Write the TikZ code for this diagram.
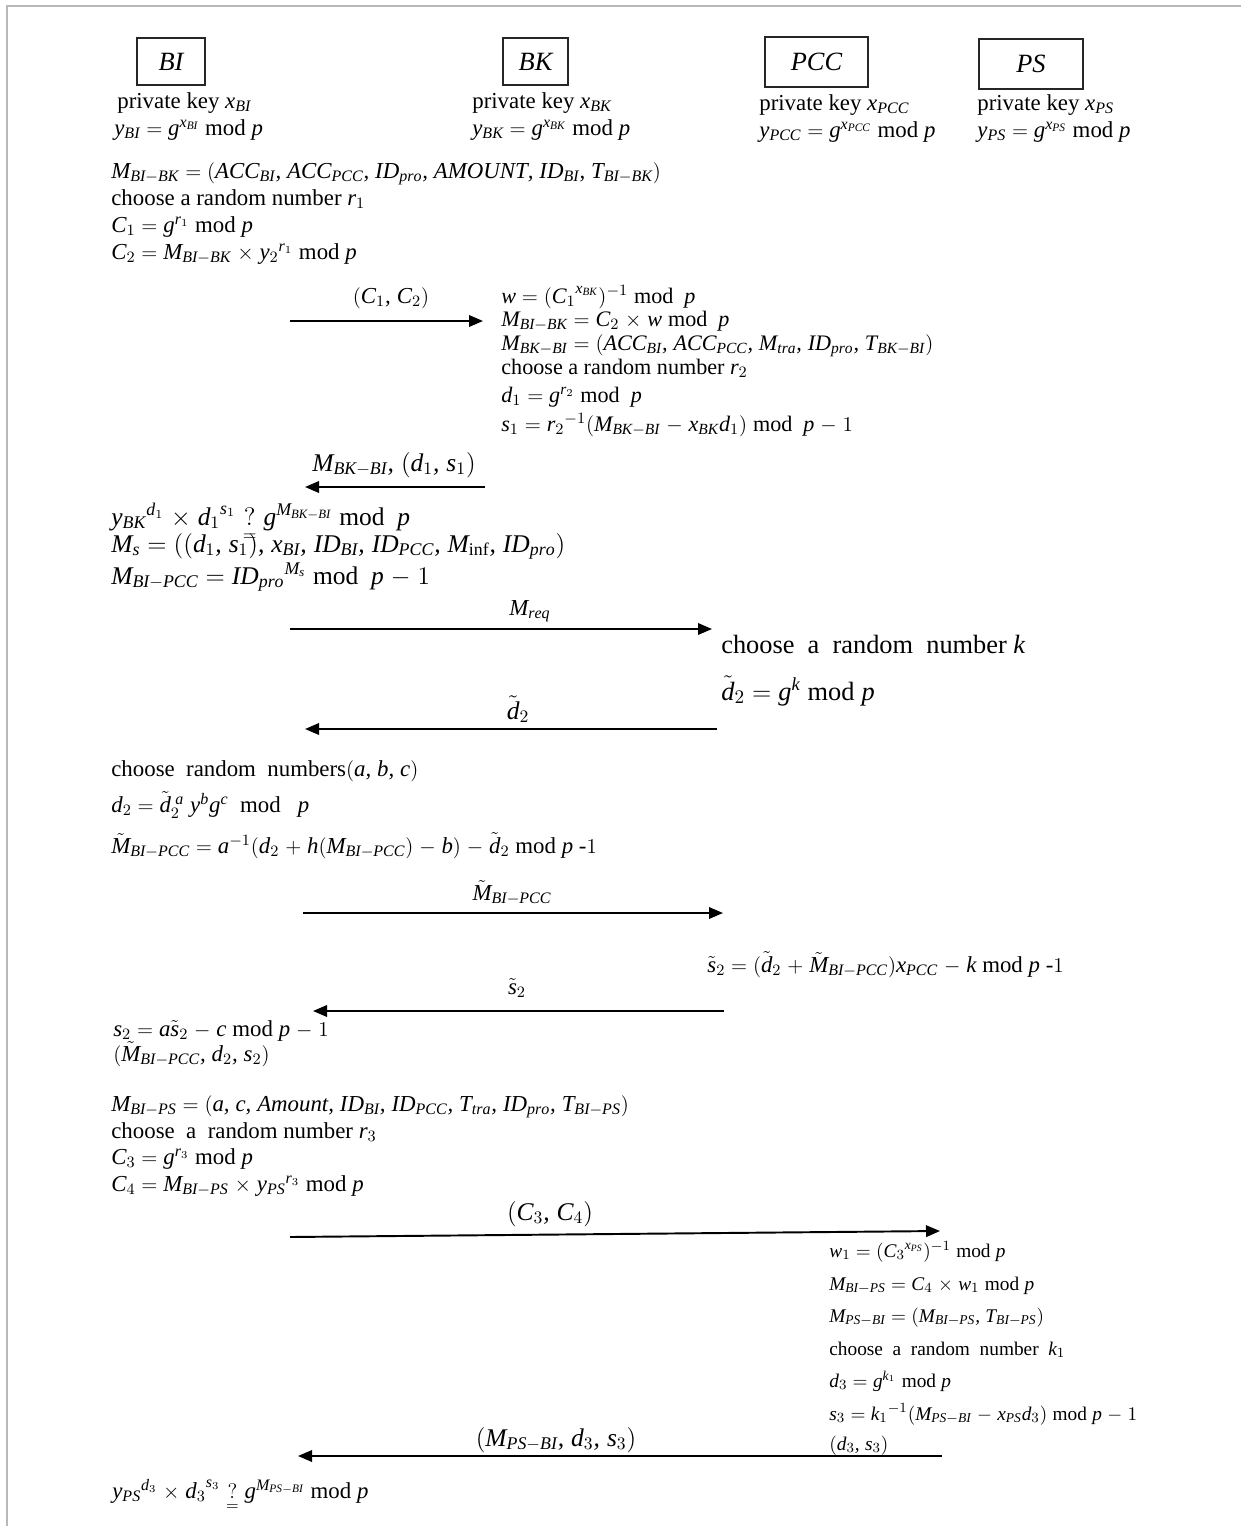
\documentclass[tikz,border=0pt]{standalone}
\usepackage{amsmath}
\usepackage{fontspec}
\setmainfont{Liberation Serif}[NFSSFamily=libser]
\DeclareSymbolFont{letters}{TU}{libser}{m}{it}
\mathcode`\,="612C
\thinmuskip=5mu
\medmuskip=5mu plus 2mu
\usetikzlibrary{arrows.meta}
\newcommand{\modp}{\;\mathrm{mod}\;p}
\newcommand{\qeq}{\mathrel{\underset{=}{?}}}
\begin{document}
\begin{tikzpicture}[x=0.2mm, y=-0.2mm,
  party/.style={draw=black!85, line width=0.6pt, minimum height=9.4mm, inner sep=0pt,
    font=\fontsize{15}{18}\selectfont\itshape},
  calc/.style={anchor=base west, inner sep=0pt, font=\fontsize{13}{15}\selectfont},
  calcbk/.style={calc, font=\fontsize{12.6}{14}\selectfont},
  calcbig/.style={calc, font=\fontsize{15}{18}\selectfont},
  calcwide/.style={calc, font=\fontsize{14.5}{17}\selectfont},
  calcps/.style={calc, font=\fontsize{11}{13}\selectfont},
  lab/.style={anchor=base, inner sep=0pt, font=\fontsize{13}{15}\selectfont},
  labbig/.style={lab, font=\fontsize{14.5}{17}\selectfont},
  msg/.style={line width=1.1pt, -{Triangle[length=2.8mm, width=2.3mm]}}]
  \useasboundingbox (0,0) rectangle (1241,1526);
  \draw[black!28, line width=0.45mm] (7,1526) -- (7,6) -- (1241,6);

  % parties
  \node[party, minimum width=13.6mm] (bi) at (171,61.5) {BI};
  \node[party, minimum width=13mm] (bk) at (535.5,61.5) {BK};
  \node[party, minimum width=20.6mm, minimum height=10mm] (pcc) at (816.5,62) {PCC};
  \node[party, minimum width=20.8mm, minimum height=10mm] (ps) at (1031,64) {PS};

  \node[calc] (bikey) at (117,108) {private key $x_{BI}$};
  \node[calc] (bipub) at (114,135) {$y_{BI}=g^{x_{BI}}\modp$};
  \node[calc] (bkkey) at (472,108) {private key $x_{BK}$};
  \node[calc] (bkpub) at (472,135) {$y_{BK}=g^{x_{BK}}\modp$};
  \node[calc] (pcckey) at (759,110) {private key $x_{PCC}$};
  \node[calc] (pccpub) at (759,137) {$y_{PCC}=g^{x_{PCC}}\modp$};
  \node[calc] (pskey) at (977,110) {private key $x_{PS}$};
  \node[calc] (pspub) at (977,137) {$y_{PS}=g^{x_{PS}}\modp$};

  % BI -> BK
  \node[calc] (bi1) at (111,178) {$M_{BI-BK}=(ACC_{BI},ACC_{PCC},ID_{pro},AMOUNT,ID_{BI},T_{BI-BK})$};
  \node[calc] (bi2) at (111,205) {choose a random number $r_1$};
  \node[calc] (bi3) at (111,232) {$C_1=g^{r_1}\modp$};
  \node[calc] (bi4) at (111,259) {$C_2=M_{BI-BK}\times {y_2}^{r_1}\modp$};

  \coordinate (m1a) at (290,321);
  \coordinate (m1b) at (483,321);
  \draw[msg] (m1a) -- (m1b);
  \node[lab] (m1) at (391,303) {$(C_1,C_2)$};

  \node[calcbk] (bk1) at (501,303) {$w=({C_1}^{x_{BK}})^{-1}\;\mathrm{mod}\ \ p$};
  \node[calcbk] (bk2) at (501,326) {$M_{BI-BK}=C_2\times w\,\mathrm{mod}\ \ p$};
  \node[calcbk] (bk3) at (501,350) {$M_{BK-BI}=(ACC_{BI},ACC_{PCC},M_{tra},ID_{pro},T_{BK-BI})$};
  \node[calcbk] (bk4) at (501,374) {choose a random number $r_2$};
  \node[calcbk] (bk5) at (501,402) {$d_1=g^{r_2}\;\mathrm{mod}\ \ p$};
  \node[calcbk] (bk6) at (501,431) {$s_1={r_2}^{-1}(M_{BK-BI}-x_{BK}d_1)\,\mathrm{mod}\ \ p-1$};

  \coordinate (m2a) at (485,487);
  \coordinate (m2b) at (305,487);
  \draw[msg] (m2a) -- (m2b);
  \node[labbig] (m2) at (394,471) {$M_{BK-BI},(d_1,s_1)$};

  % BI -> PCC
  \node[calcwide] (bi5) at (111,525) {${y_{BK}}^{d_1}\times {d_1}^{s_1}\qeq g^{M_{BK-BI}}\;\mathrm{mod}\ \ p$};
  \node[calcwide] (bi6) at (111,552) {$M_s=((d_1,s_1),x_{BI},ID_{BI},ID_{PCC},M_{\mathrm{inf}},ID_{pro})$};
  \node[calcwide] (bi7) at (111,584) {$M_{BI-PCC}={ID_{pro}}^{M_s}\;\mathrm{mod}\ \ p-1$};

  \coordinate (m3a) at (290,629);
  \coordinate (m3b) at (712,629);
  \draw[msg] (m3a) -- (m3b);
  \node[lab] (m3) at (530,615) {$M_{req}$};

  \node[calcbig] (pcc1) at (721,653) {choose\ \ a\ \ random\ \ number $k$};
  \node[calcbig] (pcc2) at (721,700) {$\tilde{d}_2=g^{k}\modp$};

  \coordinate (m4a) at (717,729);
  \coordinate (m4b) at (305,729);
  \draw[msg] (m4a) -- (m4b);
  \node[labbig] (m4) at (518,719) {$\tilde{d}_2$};

  \node[calc] (bi8) at (111,776) {choose\ \ random\ \ numbers$(a,b,c)$};
  \node[calc] (bi9) at (111,812) {$d_2={\tilde{d}_2}^{\,a}\;y^b g^c\ \ \mathrm{mod}\ \ \ p$};
  \node[calc] (bi10) at (111,853) {$\tilde{M}_{BI-PCC}=a^{-1}(d_2+h(M_{BI-PCC})-b)-\tilde{d}_2\modp\ \text{-}1$};

  \coordinate (m5a) at (303,913);
  \coordinate (m5b) at (723,913);
  \draw[msg] (m5a) -- (m5b);
  \node[lab] (m5) at (512,900) {$\tilde{M}_{BI-PCC}$};

  \node[calc] (pcc3) at (707,972) {$\tilde{s}_2=(\tilde{d}_2+\tilde{M}_{BI-PCC})x_{PCC}-k\modp\ \text{-}1$};

  \coordinate (m6a) at (724,1011);
  \coordinate (m6b) at (313,1011);
  \draw[msg] (m6a) -- (m6b);
  \node[lab] (m6) at (517,994) {$\tilde{s}_2$};

  % BI -> PS
  \node[calc] (bi11) at (113,1036) {$s_2=a\tilde{s}_2-c\modp-1$};
  \node[calc] (bi12) at (113,1061) {$(\tilde{M}_{BI-PCC},d_2,s_2)$};
  \node[calc] (bi13) at (111,1111) {$M_{BI-PS}=(a,c,Amount,ID_{BI},ID_{PCC},T_{tra},ID_{pro},T_{BI-PS})$};
  \node[calc] (bi14) at (111,1138) {choose\ \ a\ \ random number $r_3$};
  \node[calc] (bi15) at (111,1164) {$C_3=g^{r_3}\modp$};
  \node[calc] (bi16) at (111,1191) {$C_4=M_{BI-PS}\times {y_{PS}}^{r_3}\modp$};

  \coordinate (m7a) at (290,1237);
  \coordinate (m7b) at (940,1231);
  \draw[msg] (m7a) -- (m7b);
  \node[labbig] (m7) at (550,1220) {$(C_3,C_4)$};

  \node[calcps] (ps1) at (829,1257) {$w_1=({C_3}^{x_{PS}})^{-1}\modp$};
  \node[calcps] (ps2) at (829,1290) {$M_{BI-PS}=C_4\times w_1\modp$};
  \node[calcps] (ps3) at (829,1322) {$M_{PS-BI}=(M_{BI-PS},T_{BI-PS})$};
  \node[calcps] (ps4) at (829,1355) {choose\ \ a\ \ random\ \ number\ \ $k_1$};
  \node[calcps] (ps5) at (829,1387) {$d_3=g^{k_1}\modp$};
  \node[calcps] (ps6) at (829,1420) {$s_3={k_1}^{-1}(M_{PS-BI}-x_{PS}d_3)\modp-1$};
  \node[calcps] (ps7) at (829,1450) {$(d_3,s_3)$};

  \coordinate (m8a) at (942,1456);
  \coordinate (m8b) at (298,1456);
  \draw[msg] (m8a) -- (m8b);
  \node[labbig] (m8) at (556,1446) {$(M_{PS-BI},d_3,s_3)$};

  \node[calc] (bi17) at (112,1498) {${y_{PS}}^{d_3}\times {d_3}^{s_3}\qeq g^{M_{PS-BI}}\modp$};
\end{tikzpicture}
\end{document}
